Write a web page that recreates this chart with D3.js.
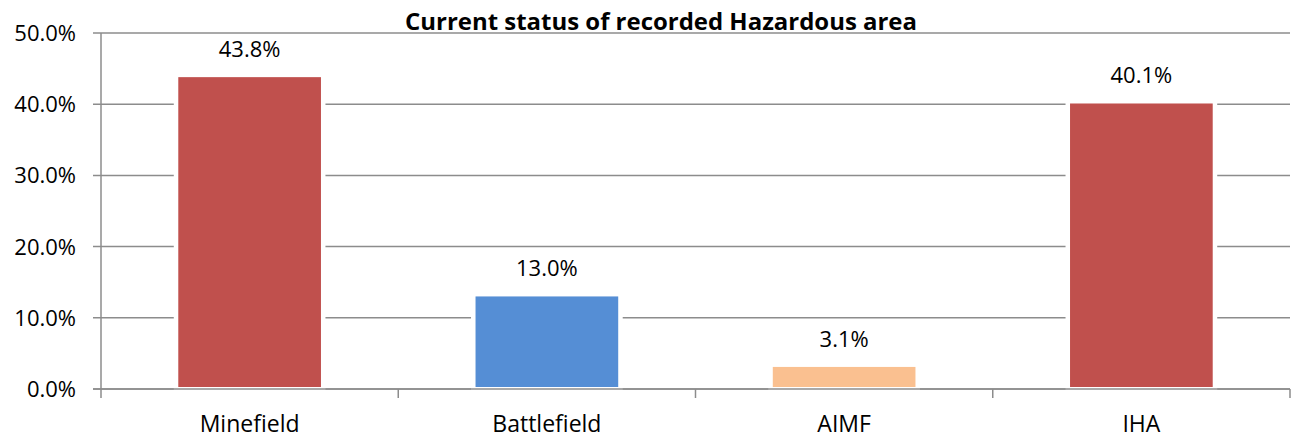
<!DOCTYPE html>
<html>
  <head>
    <meta charset="utf-8">
    <style>
      body { margin: 0; background: #fff; }
      text { font-family: "Open Sans", Lato, sans-serif; fill: #000; }
    </style>
    <script src="https://d3js.org/d3.v7.min.js"></script>
  </head>
  <body>
    <svg></svg>
    <script>
    // chart data
    var categories = ["Minefield", "Battlefield", "AIMF", "IHA"];
    var shares = [43.8, 13.0, 3.1, 40.1];
    var barColors = ["#C0504D", "#558ED5", "#FAC090", "#C0504D"];
    var yTicks = [0, 10, 20, 30, 40, 50];

    var width = 1293, height = 438;
    var margin = {top: 33, right: 3, bottom: 49, left: 101};

    var svg = d3.select("svg")
        .attr("width", width)
        .attr("height", height);

    var x = d3.scaleBand()
        .domain(categories)
        .range([margin.left, width - margin.right])
        .paddingInner(0.52)
        .paddingOuter(0.26);

    var y = d3.scaleLinear()
        .domain([0, 50])
        .range([height - margin.bottom, margin.top]);

    // gridlines
    svg.append("g")
      .selectAll("line")
      .data(yTicks)
      .enter().append("line")
        .attr("x1", margin.left - 8)
        .attr("x2", width - margin.right)
        .attr("y1", function(d) { return y(d); })
        .attr("y2", function(d) { return y(d); })
        .attr("stroke", "#8c8c8c")
        .attr("stroke-width", 1.5);

    // y labels
    svg.append("g")
      .selectAll("text")
      .data(yTicks)
      .enter().append("text")
        .attr("x", 76)
        .attr("y", function(d) { return y(d); })
        .attr("dy", "0.36em")
        .attr("text-anchor", "end")
        .style("font-size", "22px")
        .text(function(d) { return d.toFixed(1) + "%"; });

    // white halo behind bars breaks the gridlines
    svg.append("g")
      .selectAll("rect")
      .data(shares)
      .enter().append("rect")
        .attr("x", function(d, i) { return x(categories[i]); })
        .attr("y", function(d) { return y(d); })
        .attr("width", x.bandwidth())
        .attr("height", function(d) { return y(0) - y(d) - 2; })
        .attr("fill", "#fff")
        .attr("stroke", "#fff")
        .attr("stroke-width", 9);

    // bars
    svg.append("g")
      .selectAll("rect")
      .data(shares)
      .enter().append("rect")
        .attr("x", function(d, i) { return x(categories[i]); })
        .attr("y", function(d) { return y(d); })
        .attr("width", x.bandwidth())
        .attr("height", function(d) { return y(0) - y(d) - 2; })
        .attr("fill", function(d, i) { return barColors[i]; });

    // baseline and axes
    svg.append("line")
        .attr("x1", margin.left - 8)
        .attr("x2", width - margin.right)
        .attr("y1", y(0))
        .attr("y2", y(0))
        .attr("stroke", "#8c8c8c")
        .attr("stroke-width", 1.5);

    svg.append("line")
        .attr("x1", margin.left)
        .attr("x2", margin.left)
        .attr("y1", y(50))
        .attr("y2", y(0) + 9)
        .attr("stroke", "#8c8c8c")
        .attr("stroke-width", 1.5);

    var step = x.step();
    svg.append("g")
      .selectAll("line")
      .data(categories)
      .enter().append("line")
        .attr("x1", function(d) { return x(d) + x.bandwidth() / 2 + step / 2; })
        .attr("x2", function(d) { return x(d) + x.bandwidth() / 2 + step / 2; })
        .attr("y1", y(0))
        .attr("y2", y(0) + 9)
        .attr("stroke", "#8c8c8c")
        .attr("stroke-width", 1.5);

    // category labels
    svg.append("g")
      .selectAll("text")
      .data(categories)
      .enter().append("text")
        .attr("x", function(d) { return x(d) + x.bandwidth() / 2; })
        .attr("y", 432)
        .attr("text-anchor", "middle")
        .style("font-size", "23px")
        .text(function(d) { return d; });

    // value labels
    svg.append("g")
      .selectAll("text")
      .data(shares)
      .enter().append("text")
        .attr("x", function(d, i) { return x(categories[i]) + x.bandwidth() / 2; })
        .attr("y", function(d) { return y(d) - 20; })
        .attr("text-anchor", "middle")
        .style("font-size", "22px")
        .text(function(d) { return d.toFixed(1) + "%"; });

    svg.append("text")
        .attr("x", 405)
        .attr("y", 30)
        .attr("textLength", 512)
        .attr("lengthAdjust", "spacingAndGlyphs")
        .style("font-size", "24px")
        .style("font-weight", "bold")
        .text("Current status of recorded Hazardous area");
    </script>
  </body>
</html>
